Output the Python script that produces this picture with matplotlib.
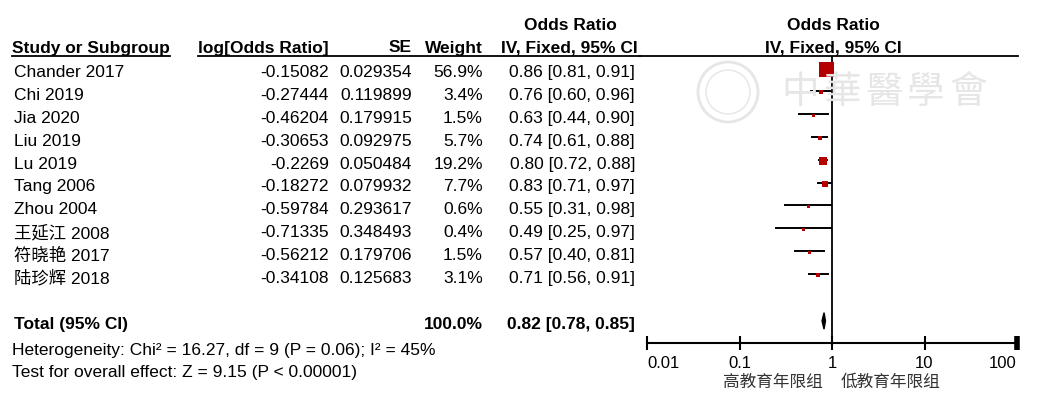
import numpy as np
import matplotlib
matplotlib.use("Agg")
import matplotlib.pyplot as plt
from matplotlib.transforms import blended_transform_factory
from matplotlib.patches import Polygon, Circle

plt.rcParams['font.family'] = ['Liberation Sans', 'Noto Sans CJK SC']

# data
studies = ['Chander 2017', 'Chi 2019', 'Jia 2020', 'Liu 2019', 'Lu 2019', 'Tang 2006',
           'Zhou 2004', '王延江 2008', '符晓艳 2017', '陆珍辉 2018']
log_or = ['-0.15082', '-0.27444', '-0.46204', '-0.30653', '-0.2269', '-0.18272',
          '-0.59784', '-0.71335', '-0.56212', '-0.34108']
se = ['0.029354', '0.119899', '0.179915', '0.092975', '0.050484', '0.079932',
      '0.293617', '0.348493', '0.179706', '0.125683']
weight = [56.9, 3.4, 1.5, 5.7, 19.2, 7.7, 0.6, 0.4, 1.5, 3.1]
odds = [0.86, 0.76, 0.63, 0.74, 0.80, 0.83, 0.55, 0.49, 0.57, 0.71]
ci_low = [0.81, 0.60, 0.44, 0.61, 0.72, 0.71, 0.31, 0.25, 0.40, 0.56]
ci_high = [0.91, 0.96, 0.90, 0.88, 0.88, 0.97, 0.98, 0.97, 0.81, 0.91]
total_or, total_low, total_high = 0.82, 0.78, 0.85
total_weight = '100.0%'
heterogeneity = 'Heterogeneity: Chi² = 16.27, df = 9 (P = 0.06); I² = 45%'
overall = 'Test for overall effect: Z = 9.15 (P < 0.00001)'
ticks = [0.01, 0.1, 1, 10, 100]
tick_labels = ['0.01', '0.1', '1', '10', '100']
favours = ['高教育年限组', '低教育年限组']
watermark = '中華醫學會'

W, H = 1039, 399
fig = plt.figure(figsize=(W / 100, H / 100), dpi=100)

# forest axes: x 0.01..100 -> px 647..1017, rows from px 56 to 343
row0, step = 69, 22.9
top_px, bot_px = 56, 343
ax = fig.add_axes([647 / W, 1 - bot_px / H, 370 / W, (bot_px - top_px) / H])
ax.set_xscale('log')
ax.set_xlim(0.01, 100)
ax.set_ylim((bot_px - row0) / step, (top_px - row0) / step)
for s in ['top', 'left', 'right']:
    ax.spines[s].set_visible(False)
ax.spines['bottom'].set_linewidth(1.5)
ax.set_yticks([])
ax.set_xticks(ticks)
ax.set_xticklabels(tick_labels, fontsize=12)
ax.minorticks_off()
ax.tick_params(axis='x', direction='inout', length=10, width=1.5, pad=4)
tl = ax.get_xticklabels()
tl[0].set_ha('left')
tl[-1].set_ha('right')
ax.xaxis.get_major_ticks()[-1].tick1line.set_markeredgewidth(4)

ax.axvline(1, color='black', lw=1.3, zorder=1)

rows = np.arange(len(studies))
for i in rows:
    ax.plot([ci_low[i], ci_high[i]], [i - 0.04, i - 0.04], color='black', lw=1.4, zorder=2)
    side = max(3.0, 15 * np.sqrt(weight[i] / max(weight)))
    ax.plot(odds[i], i, marker='s', ms=side * 0.72, color='#b40000', mec='#b40000', mew=0, zorder=3)

total_row = len(studies) + 1
dh = 0.36
ax.add_patch(Polygon([[total_low, total_row], [total_or, total_row - dh],
                      [total_high, total_row], [total_or, total_row + dh]],
                     closed=True, color='black', zorder=3))

# faint publisher watermark
wm_col = '#e6e6e6'
for k, ch in enumerate(watermark):
    fig.text((800 + 42 * k) / W, 1 - 93 / H, ch, fontsize=27, color=wm_col,
             ha='center', va='center', zorder=0)
fig.patches.append(Circle((728 / 100, (H - 92) / 100), 0.30, transform=fig.dpi_scale_trans,
                          fill=False, ec=wm_col, lw=2, zorder=0))
fig.patches.append(Circle((728 / 100, (H - 92) / 100), 0.22, transform=fig.dpi_scale_trans,
                          fill=False, ec=wm_col, lw=1, zorder=0))

# header line
ax.plot([-7 / 370, 1.003], [1, 1], transform=ax.transAxes, color='black', lw=1.3, clip_on=False)

# table text
tr = blended_transform_factory(fig.transFigure, ax.transData)
fs = 12.5
hdr_row = (48 - row0) / step
hdr2_row = (26 - row0) / step
off = 0.15

def px(x):
    return x / W

fig.text(px(570), hdr2_row, 'Odds Ratio', transform=tr, ha='center', va='center', fontsize=fs, fontweight='bold')
fig.text(px(833), hdr2_row, 'Odds Ratio', transform=tr, ha='center', va='center', fontsize=fs, fontweight='bold')
fig.text(px(833), hdr_row, 'IV, Fixed, 95% CI', transform=tr, ha='center', va='center', fontsize=fs, fontweight='bold')
h_study = fig.text(px(12), hdr_row, 'Study or Subgroup', transform=tr, ha='left', va='center', fontsize=fs, fontweight='bold')
h_log = fig.text(px(329), hdr_row, 'log[Odds Ratio]', transform=tr, ha='right', va='center', fontsize=fs, fontweight='bold')
fig.text(px(412), hdr_row, 'SE', transform=tr, ha='right', va='center', fontsize=fs, fontweight='bold')
fig.text(px(483), hdr_row, 'Weight', transform=tr, ha='right', va='center', fontsize=fs, fontweight='bold')
fig.text(px(638), hdr_row, 'IV, Fixed, 95% CI', transform=tr, ha='right', va='center', fontsize=fs, fontweight='bold')

for i in rows:
    y = i + off
    fig.text(px(14), y, studies[i], transform=tr, ha='left', va='center', fontsize=fs)
    fig.text(px(329), y, log_or[i], transform=tr, ha='right', va='center', fontsize=fs)
    fig.text(px(412), y, se[i], transform=tr, ha='right', va='center', fontsize=fs)
    fig.text(px(483), y, f'{weight[i]:.1f}%', transform=tr, ha='right', va='center', fontsize=fs)
    fig.text(px(635), y, f'{odds[i]:.2f} [{ci_low[i]:.2f}, {ci_high[i]:.2f}]', transform=tr,
             ha='right', va='center', fontsize=fs)

yt = total_row + off
fig.text(px(14), yt, 'Total (95% CI)', transform=tr, ha='left', va='center', fontsize=fs, fontweight='bold')
fig.text(px(483), yt, total_weight, transform=tr, ha='right', va='center', fontsize=fs, fontweight='bold')
fig.text(px(635), yt, f'{total_or:.2f} [{total_low:.2f}, {total_high:.2f}]', transform=tr,
         ha='right', va='center', fontsize=fs, fontweight='bold')
fig.text(px(12), 1 - 350 / H, heterogeneity, ha='left', va='center', fontsize=fs)
fig.text(px(12), 1 - 373 / H, overall, ha='left', va='center', fontsize=fs)

fig.text(px(773), 1 - 382 / H, favours[0], ha='center', va='center', fontsize=12, color='#333333')
fig.text(px(890), 1 - 382 / H, favours[1], ha='center', va='center', fontsize=12, color='#333333')

# underlines for left headers
fig.canvas.draw()
inv = fig.transFigure.inverted()
line_y = 1 - top_px / H
b1 = inv.transform(h_study.get_window_extent())
b2 = inv.transform(h_log.get_window_extent())
fig.add_artist(plt.Line2D([b1[0][0], b1[1][0]], [line_y, line_y], color='black', lw=1.3))
fig.add_artist(plt.Line2D([b2[0][0], 640 / W], [line_y, line_y], color='black', lw=1.3))

fig.savefig('out.png', dpi=100)
